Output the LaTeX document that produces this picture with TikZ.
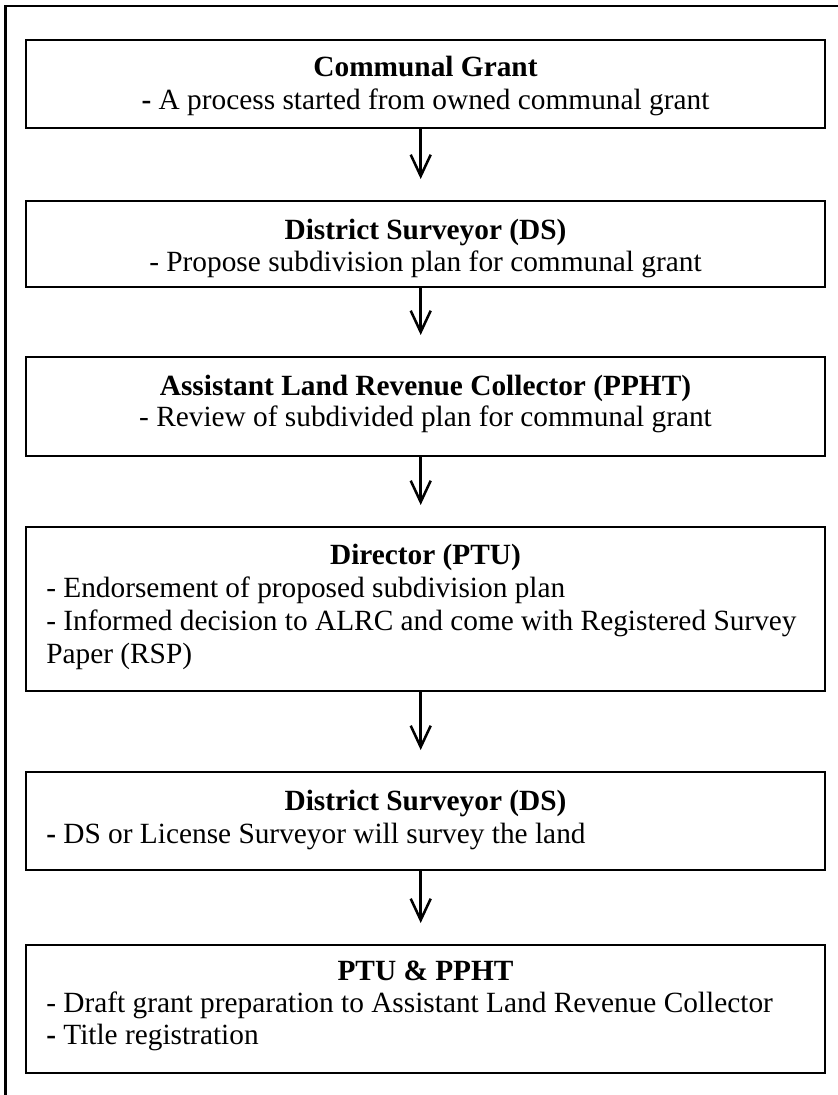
\documentclass[tikz,border=0pt]{standalone}
\usepackage{fontspec}
\setmainfont{Liberation Serif}
\usetikzlibrary{arrows.meta}
\begin{document}
\begin{tikzpicture}[x=0.75pt,y=-0.75pt,
  box/.style={draw,line width=1pt,inner sep=0pt,outer sep=0pt,minimum width=599.25pt},
  txt/.style={font=\fontsize{22}{25}\selectfont,inner sep=0pt,anchor=base},
  ltxt/.style={txt,anchor=base west},
  arr/.style={line width=1.9pt,-{Straight Barb[length=16pt,width=15pt,line width=1.9pt]},shorten >=16.5pt}]
\useasboundingbox (0,0) rectangle (838,1095);
\draw[line width=1.9pt] (5.5,1095) -- (5.5,5.8) -- (838,5.8);
\coordinate (ax) at (420.7,0);
% boxes
\node[box,minimum height=66pt]   (b1) at (425.5,84) {};
\node[box,minimum height=64.5pt] (b2) at (425.5,244) {};
\node[box,minimum height=74.25pt](b3) at (425.5,406.5) {};
\node[box,minimum height=123pt]  (b4) at (425.5,609) {};
\node[box,minimum height=73.5pt] (b5) at (425.5,821) {};
\node[box,minimum height=96pt]   (b6) at (425.5,1009) {};
% texts
\node[txt] (t1a) at (425.5,77) {\textbf{Communal Grant}};
\node[txt] (t1b) at (425.5,110) {\textbf{-} A process started from owned communal grant};
\node[txt] (t2a) at (425.5,239) {\textbf{District Surveyor (DS)}};
\node[txt] (t2b) at (425.5,271) {- Propose subdivision plan for communal grant};
\node[txt] (t3a) at (425.5,395) {\textbf{Assistant Land Revenue Collector (PPHT)}};
\node[txt] (t3b) at (425.5,426) {- Review of subdivided plan for communal grant};
\node[txt] (t4a) at (425.5,564) {\textbf{Director (PTU)}};
\node[ltxt] (t4b) at (46,597) {- Endorsement of proposed subdivision plan};
\node[ltxt] (t4c) at (46,630) {- Informed decision to ALRC and come with Registered Survey};
\node[ltxt] (t4d) at (46,663) {Paper (RSP)};
\node[txt] (t5a) at (425.5,810) {\textbf{District Surveyor (DS)}};
\node[ltxt] (t5b) at (46,843) {\textbf{-} DS or License Surveyor will survey the land};
\node[txt] (t6a) at (425.5,980) {\textbf{PTU \& PPHT}};
\node[ltxt] (t6b) at (46,1012) {- Draft grant preparation to Assistant Land Revenue Collector};
\node[ltxt] (t6c) at (46,1044) {\textbf{-} Title registration};
% arrows
\draw[arr] (b1.south -| ax) -- (b2.north -| ax);
\draw[arr] (b2.south -| ax) -- (b3.north -| ax);
\draw[arr] (b3.south -| ax) -- (b4.north -| ax);
\draw[arr] (b4.south -| ax) -- (b5.north -| ax);
\draw[arr] (b5.south -| ax) -- (b6.north -| ax);
\end{tikzpicture}
\end{document}
